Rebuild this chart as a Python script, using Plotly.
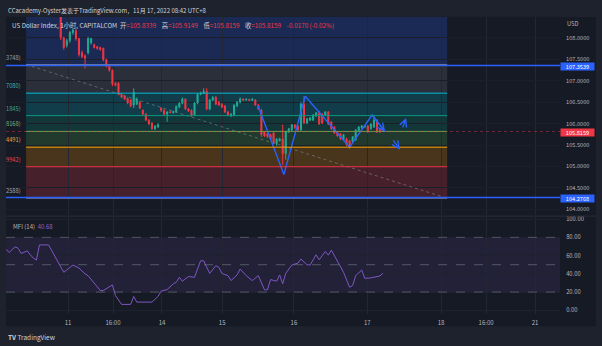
import plotly.graph_objects as go

W, H = 602, 346
FONT = "Noto Sans CJK SC"
FRAME = "#1e222d"
PANE = "#161a25"
TXT = "#b2b5be"
GREEN = "#22ab94"
RED = "#f23645"
BLUE = "#2962ff"
PURPLE = "#7e57c2"

# ---------------- data ----------------
candle_start = 18  # hourly bar index of first visible candle
opens = [108.62, 108.00, 107.82, 107.93, 108.12, 108.16, 107.98, 107.65, 107.58, 107.65,
         107.88, 107.84, 107.79, 107.77, 107.75, 107.49, 107.35, 107.24, 106.94, 106.94,
         106.68, 106.64, 106.59, 106.55, 106.43, 106.45, 106.50, 106.31, 106.22, 106.08,
         106.01, 105.88, 105.92,
         106.36, 106.31, 106.22, 106.27, 106.25, 106.27, 106.38, 106.47, 106.57, 106.34,
         106.31, 106.20, 106.48, 106.68, 106.71, 106.75, 106.34, 106.55, 106.61, 106.50,
         106.45, 106.41, 106.27, 106.18, 106.20, 106.41, 106.50, 106.57, 106.55, 106.56,
         106.54, 106.55, 106.43, 106.31,
         105.81, 105.76, 105.74, 105.78, 105.53, 105.60, 105.64, 105.30, 105.81, 105.85,
         105.97, 105.94, 105.85, 106.45, 106.01, 106.08, 106.08, 106.18, 106.27, 106.22,
         106.20, 106.27, 106.04, 105.92, 105.81, 105.76, 105.62, 105.64, 105.60, 105.58,
         105.62, 105.83, 105.90, 105.92, 105.94, 105.88, 105.92, 106.08, 105.88, 105.8339]
highs = [108.67, 108.02, 107.98, 108.16, 108.23, 108.21, 108.00, 107.70, 107.61, 108.02,
         108.00, 107.86, 107.81, 107.79, 107.77, 107.51, 107.38, 107.26, 106.96, 106.96,
         106.71, 106.66, 106.61, 106.57, 106.82, 106.61, 106.52, 106.33, 106.24, 106.10,
         106.03, 105.96, 106.01,
         106.38, 106.33, 106.29, 106.29, 106.30, 106.42, 106.50, 106.61, 106.59, 106.36,
         106.33, 106.50, 106.70, 106.74, 106.82, 106.82, 106.57, 106.64, 106.64, 106.52,
         106.48, 106.43, 106.29, 106.24, 106.45, 106.52, 106.61, 106.59, 106.59, 106.58,
         106.59, 106.57, 106.45, 106.34,
         105.83, 105.78, 105.76, 105.80, 105.66, 105.67, 105.97, 105.83, 105.90, 105.99,
         105.99, 105.96, 106.50, 106.64, 106.13, 106.15, 106.22, 106.27, 106.29, 106.24,
         106.29, 106.29, 106.06, 105.94, 105.83, 105.78, 105.76, 105.67, 105.62, 105.71,
         105.87, 105.94, 105.97, 105.96, 105.97, 106.01, 106.20, 106.10, 105.90, 105.9149]
lows = [107.95, 107.72, 107.77, 107.88, 108.07, 107.93, 107.56, 107.52, 107.28, 107.61,
        107.84, 107.75, 107.72, 107.70, 107.45, 107.31, 107.21, 106.87, 106.87, 106.66,
        106.59, 106.55, 106.45, 106.38, 106.36, 106.43, 106.34, 106.20, 106.06, 105.97,
        105.85, 105.85, 105.90,
        106.27, 106.20, 106.04, 106.24, 106.23, 106.25, 106.36, 106.45, 106.32, 106.27,
        106.15, 106.18, 106.45, 106.66, 106.69, 106.31, 106.31, 106.52, 106.43, 106.41,
        106.36, 106.25, 106.17, 106.15, 106.17, 106.38, 106.47, 106.52, 106.53, 106.52,
        106.52, 106.41, 106.32, 105.69,
        105.69, 105.67, 105.62, 105.53, 105.48, 105.58, 105.04, 105.16, 105.78, 105.83,
        105.88, 105.83, 105.83, 105.99, 105.99, 106.06, 106.06, 106.15, 105.97, 105.99,
        106.17, 105.97, 105.85, 105.76, 105.69, 105.62, 105.60, 105.48, 105.41, 105.55,
        105.60, 105.81, 105.88, 105.90, 105.78, 105.85, 105.90, 105.78, 105.78, 105.8159]
closes = [108.00, 107.77, 107.93, 108.12, 108.18, 107.98, 107.61, 107.56, 107.52, 107.98,
          107.98, 107.77, 107.75, 107.72, 107.49, 107.33, 107.24, 106.92, 106.89, 106.68,
          106.61, 106.57, 106.48, 106.41, 106.73, 106.57, 106.36, 106.22, 106.08, 105.99,
          105.88, 105.94, 105.97,
          106.31, 106.22, 106.27, 106.26, 106.28, 106.40, 106.47, 106.57, 106.34, 106.29,
          106.18, 106.48, 106.68, 106.71, 106.75, 106.34, 106.55, 106.61, 106.45, 106.43,
          106.38, 106.27, 106.20, 106.22, 106.43, 106.50, 106.57, 106.55, 106.56, 106.54,
          106.57, 106.43, 106.34, 105.74,
          105.71, 105.69, 105.64, 105.55, 105.64, 105.64, 105.30, 105.81, 105.88, 105.97,
          105.90, 105.85, 106.45, 106.01, 106.11, 106.13, 106.20, 106.25, 105.99, 106.01,
          106.27, 105.99, 105.88, 105.78, 105.71, 105.64, 105.74, 105.51, 105.46, 105.69,
          105.85, 105.92, 105.94, 105.94, 105.81, 105.99, 106.08, 105.81, 105.81, 105.8159]
candle_idx = list(range(candle_start, candle_start + len(opens)))

mfi_idx = [0, 1, 3, 4, 5, 7, 8, 9, 10, 11, 14, 16, 18, 19, 22, 24, 26, 27, 31, 32,
           35, 36, 38, 41, 42, 43, 48, 50, 51, 53, 55, 56, 57, 58, 60, 62, 64, 65, 67, 69,
           70, 71, 73, 74, 76, 77, 79, 81, 83, 85, 86, 87, 89, 90, 91, 92, 94, 96, 97, 99,
           100, 102, 103, 105, 106, 107, 111, 113, 114, 115, 117, 118, 120, 123, 124]
mfi_vals = [67.0, 63.4, 69.6, 68.0, 62.3, 65.2, 60.9, 57.2, 55.1, 71.7, 71.7, 59.8, 48.9, 41.7,
            49.6, 46.4, 39.9, 38.0, 21.7, 21.7, 27.9, 16.3, 6.5, 6.5, 15.2, 9.0, 9.0, 15.2,
            21.0, 22.8, 29.0, 30.8, 36.2, 31.9, 37.0, 36.2, 54.3, 54.3, 40.5, 48.9, 47.1,
            40.5, 38.0, 32.6, 38.8, 45.3, 38.0, 32.6, 38.0, 22.5, 22.5, 33.7, 31.9, 38.8,
            29.0, 40.5, 49.6, 51.8, 56.2, 50.0, 49.6, 60.9, 55.4, 64.5, 60.5, 66.0, 41.7,
            25.3, 27.2, 38.0, 44.2, 35.1, 35.5, 37.7, 40.68]

time_tick_pos = [20.4, 35.2, 51.3, 71.1, 94.7, 118.8, 143.1, 157.9, 174.0]
time_tick_text = ["11", "16:00", "14", "15", "16", "17", "18", "16:00", "21"]
price_ticks = [104.0, 104.5, 105.0, 105.5, 106.0, 106.5, 107.0, 107.5, 108.0]
mfi_ticks = [0, 20, 40, 60, 80, 100]

fib_low, fib_high = 104.2588, 107.3748
fib_t0, fib_t1 = 6.6, 145.1
fib_ratios = [0, 0.236, 0.382, 0.5, 0.618, 0.786, 1, 1.618]
fib_colors = ["#787b86", "#f23645", "#ff9800", "#4caf50", "#089981", "#00bcd4", "#787b86", "#2962ff"]
fib_label_text = ["2588)", "9942)", "4491)", "8168)", "1845)", "7080)", "3748)"]
fib_label_colors = ["#a3a6b4", "#e5474f", "#f0a43a", "#76b07e", "#3aa597", "#3fb3c8", "#9aa0b0"]

hline_prices = [107.3539, 104.2768]
last_price = 105.8159

zig_idx = [82.9, 91.4, 98.4, 113.0, 120.4]
zig_price = [106.407, 104.813, 106.637, 105.448, 106.199]
zig_end = (124.7, 105.806)
arrow_up = ((130.3, 105.875), (131.6, 106.129))
arrow_dn = ((127.0, 105.644), (129.6, 105.390))

# ---------------- layout geometry ----------------
X_L, X_R = 6, 560            # plot area (px)
MAIN_T, MAIN_B = 14, 214
MFI_T, MFI_B = 216, 314
PANE_R, PANE_B = 596, 326


def fx(p):
    return p / W


def fy(p):
    return 1 - p / H


fig = go.Figure()

fig.add_trace(go.Candlestick(
    x=candle_idx, open=opens, high=highs, low=lows, close=closes,
    increasing=dict(line=dict(color=GREEN, width=1), fillcolor=GREEN),
    decreasing=dict(line=dict(color=RED, width=1), fillcolor=RED),
    whiskerwidth=0, hoverinfo="skip", showlegend=False, xaxis="x", yaxis="y"))

# fib trend (dashed)
fig.add_trace(go.Scatter(x=[fib_t0, fib_t1], y=[fib_high, fib_low], mode="lines",
                         line=dict(color="rgba(120,123,134,0.7)", width=1, dash="dot"),
                         hoverinfo="skip", showlegend=False))

# zigzag drawing
fig.add_trace(go.Scatter(x=zig_idx + [zig_end[0]], y=zig_price + [zig_end[1]], mode="lines",
                         line=dict(color=BLUE, width=1.4), hoverinfo="skip", showlegend=False))

# MFI
fig.add_trace(go.Scatter(x=mfi_idx, y=mfi_vals, mode="lines", line=dict(color=PURPLE, width=1),
                         hoverinfo="skip", showlegend=False, xaxis="x", yaxis="y2"))

shapes = []
# pane background (incl. axes)
shapes.append(dict(type="rect", xref="paper", yref="paper", x0=fx(X_L), x1=fx(PANE_R),
                   y0=fy(PANE_B), y1=fy(MAIN_T), fillcolor=PANE, line_width=0, layer="below"))

fib_prices = [fib_low + r * (fib_high - fib_low) for r in fib_ratios]
for i in range(1, len(fib_prices)):
    c = fib_colors[i]
    r, g, b = int(c[1:3], 16), int(c[3:5], 16), int(c[5:7], 16)
    shapes.append(dict(type="rect", xref="x", yref="y", x0=fib_t0, x1=fib_t1,
                       y0=fib_prices[i - 1], y1=fib_prices[i],
                       fillcolor=f"rgba({r},{g},{b},0.22)", line_width=0, layer="below"))
for i in range(len(fib_prices) - 1):
    shapes.append(dict(type="line", xref="x", yref="y", x0=fib_t0, x1=fib_t1,
                       y0=fib_prices[i], y1=fib_prices[i], line=dict(color=fib_colors[i], width=1)))

for p in hline_prices:
    shapes.append(dict(type="line", xref="paper", yref="y", x0=fx(X_L), x1=fx(X_R), y0=p, y1=p,
                       line=dict(color=BLUE, width=1.6)))
shapes.append(dict(type="line", xref="paper", yref="y", x0=fx(X_L), x1=fx(X_R), y0=last_price,
                   y1=last_price, line=dict(color="rgba(242,54,69,0.45)", width=1, dash="dot")))

# MFI band and levels
shapes.append(dict(type="rect", xref="paper", yref="y2", x0=fx(X_L), x1=fx(X_R), y0=20, y1=80,
                   fillcolor="rgba(126,87,194,0.12)", line_width=0, layer="below"))
for lv in (20, 50, 80):
    shapes.append(dict(type="line", xref="paper", yref="y2", x0=fx(X_L), x1=fx(X_R), y0=lv, y1=lv,
                       line=dict(color="rgba(120,123,134,0.6)", width=1, dash="dash")))
# pane separator
shapes.append(dict(type="line", xref="paper", yref="paper", x0=fx(X_L), x1=fx(PANE_R),
                   y0=fy(215), y1=fy(215), line=dict(color="#2a2e39", width=1)))

ann = []
ann.append(dict(xref="paper", yref="paper", x=fx(6), y=fy(7.5), xanchor="left", yanchor="middle",
                text="CCacademy-Oyster发表于TradingView.com，11月 17, 2022 08:42 UTC+8",
                showarrow=False, font=dict(size=6, color="#d1d4dc", family=FONT)))


def red(s):
    return f"<span style='color:{RED}'>{s}</span>"


GAP = "&nbsp;" * 4
legend = ("US Dollar Index, 1小时, CAPITALCOM&nbsp;&nbsp;开" + red("=105.8339") + GAP + "高" + red("=105.9149") +
          GAP + "低" + red("=105.8159") + GAP + "收" + red("=105.8159") + GAP + red("-0.0170 (-0.02%)"))
ann.append(dict(xref="paper", yref="paper", x=fx(10), y=fy(23), xanchor="left", yanchor="middle",
                text=legend, showarrow=False, font=dict(size=6.3, color="#d1d4dc", family=FONT)))
ann.append(dict(xref="paper", yref="paper", x=fx(11), y=fy(225), xanchor="left", yanchor="middle",
                text="MFI (14)  <span style='color:#8a63d2'>40.68</span>", showarrow=False,
                font=dict(size=6, color=TXT, family=FONT)))
ann.append(dict(xref="paper", yref="paper", x=fx(565), y=fy(21), xanchor="left", yanchor="middle",
                text="USD", showarrow=False, font=dict(size=5.7, color=TXT, family=FONT)))
ann.append(dict(xref="paper", yref="paper", x=fx(6), y=fy(337), xanchor="left", yanchor="middle",
                text="<b>TV</b> TradingView", showarrow=False, font=dict(size=6.5, color="#d1d4dc", family=FONT)))

for i, t in enumerate(fib_label_text):
    ann.append(dict(xref="x", yref="y", x=fib_t0, y=fib_prices[i], xanchor="right", yanchor="bottom",
                    xshift=-3, yshift=1, text=t, showarrow=False,
                    font=dict(size=5.7, color=fib_label_colors[i], family=FONT)))

for p, col in ((hline_prices[0], BLUE), (hline_prices[1], BLUE), (last_price, RED)):
    ann.append(dict(xref="paper", yref="y", x=fx(X_R), y=p, xanchor="left", yanchor="middle",
                    text=f"{p:.4f}", showarrow=False, bgcolor=col, width=33, height=7, borderpad=0,
                    yshift=-1, font=dict(size=5.6, color="#ffffff", family=FONT)))

arrow_list = [((zig_idx[-1], zig_price[-1]), zig_end), arrow_up, arrow_dn]
for (t0, p0), (t1, p1) in arrow_list:
    ann.append(dict(xref="x", yref="y", axref="x", ayref="y", x=t1, y=p1, ax=t0, ay=p0, text="",
                    showarrow=True, arrowhead=5, arrowsize=1.1, arrowwidth=1.3, arrowcolor=BLUE, standoff=0))

fig.update_layout(
    width=W, height=H, margin=dict(l=0, r=0, t=0, b=0),
    paper_bgcolor=FRAME, plot_bgcolor=PANE, showlegend=False, boxgap=0.5,
    font=dict(family=FONT, size=6, color=TXT),
    xaxis=dict(domain=[fx(X_L), fx(X_R)], range=[0, 182.2], anchor="y2",
               tickvals=time_tick_pos, ticktext=time_tick_text, tickfont=dict(size=6, color=TXT),
               showgrid=True, gridcolor="#232733", gridwidth=1, zeroline=False,
               ticks="outside", ticklen=3, tickcolor=PANE, showline=False,
               rangeslider=dict(visible=False), fixedrange=True),
    yaxis=dict(domain=[fy(MAIN_B), fy(MAIN_T)], range=[103.866, 108.485], side="right", anchor="x",
               tickvals=price_ticks, ticktext=[f"{v:.4f}" for v in price_ticks],
               tickfont=dict(size=5.6, color=TXT), showgrid=True, gridcolor="#1b1f2a",
               zeroline=False, ticks="outside", ticklen=4, tickcolor=PANE),
    yaxis2=dict(domain=[fy(MFI_B), fy(MFI_T)], range=[-4.35, 102.17], side="right", anchor="x",
                tickvals=mfi_ticks, ticktext=[f"{v:.2f}" for v in mfi_ticks],
                tickfont=dict(size=5.8, color=TXT), showgrid=True, gridcolor="#1e2230",
                zeroline=False, ticks="outside", ticklen=4, tickcolor=PANE),
    shapes=shapes, annotations=ann,
)

fig.write_html("out.html")
